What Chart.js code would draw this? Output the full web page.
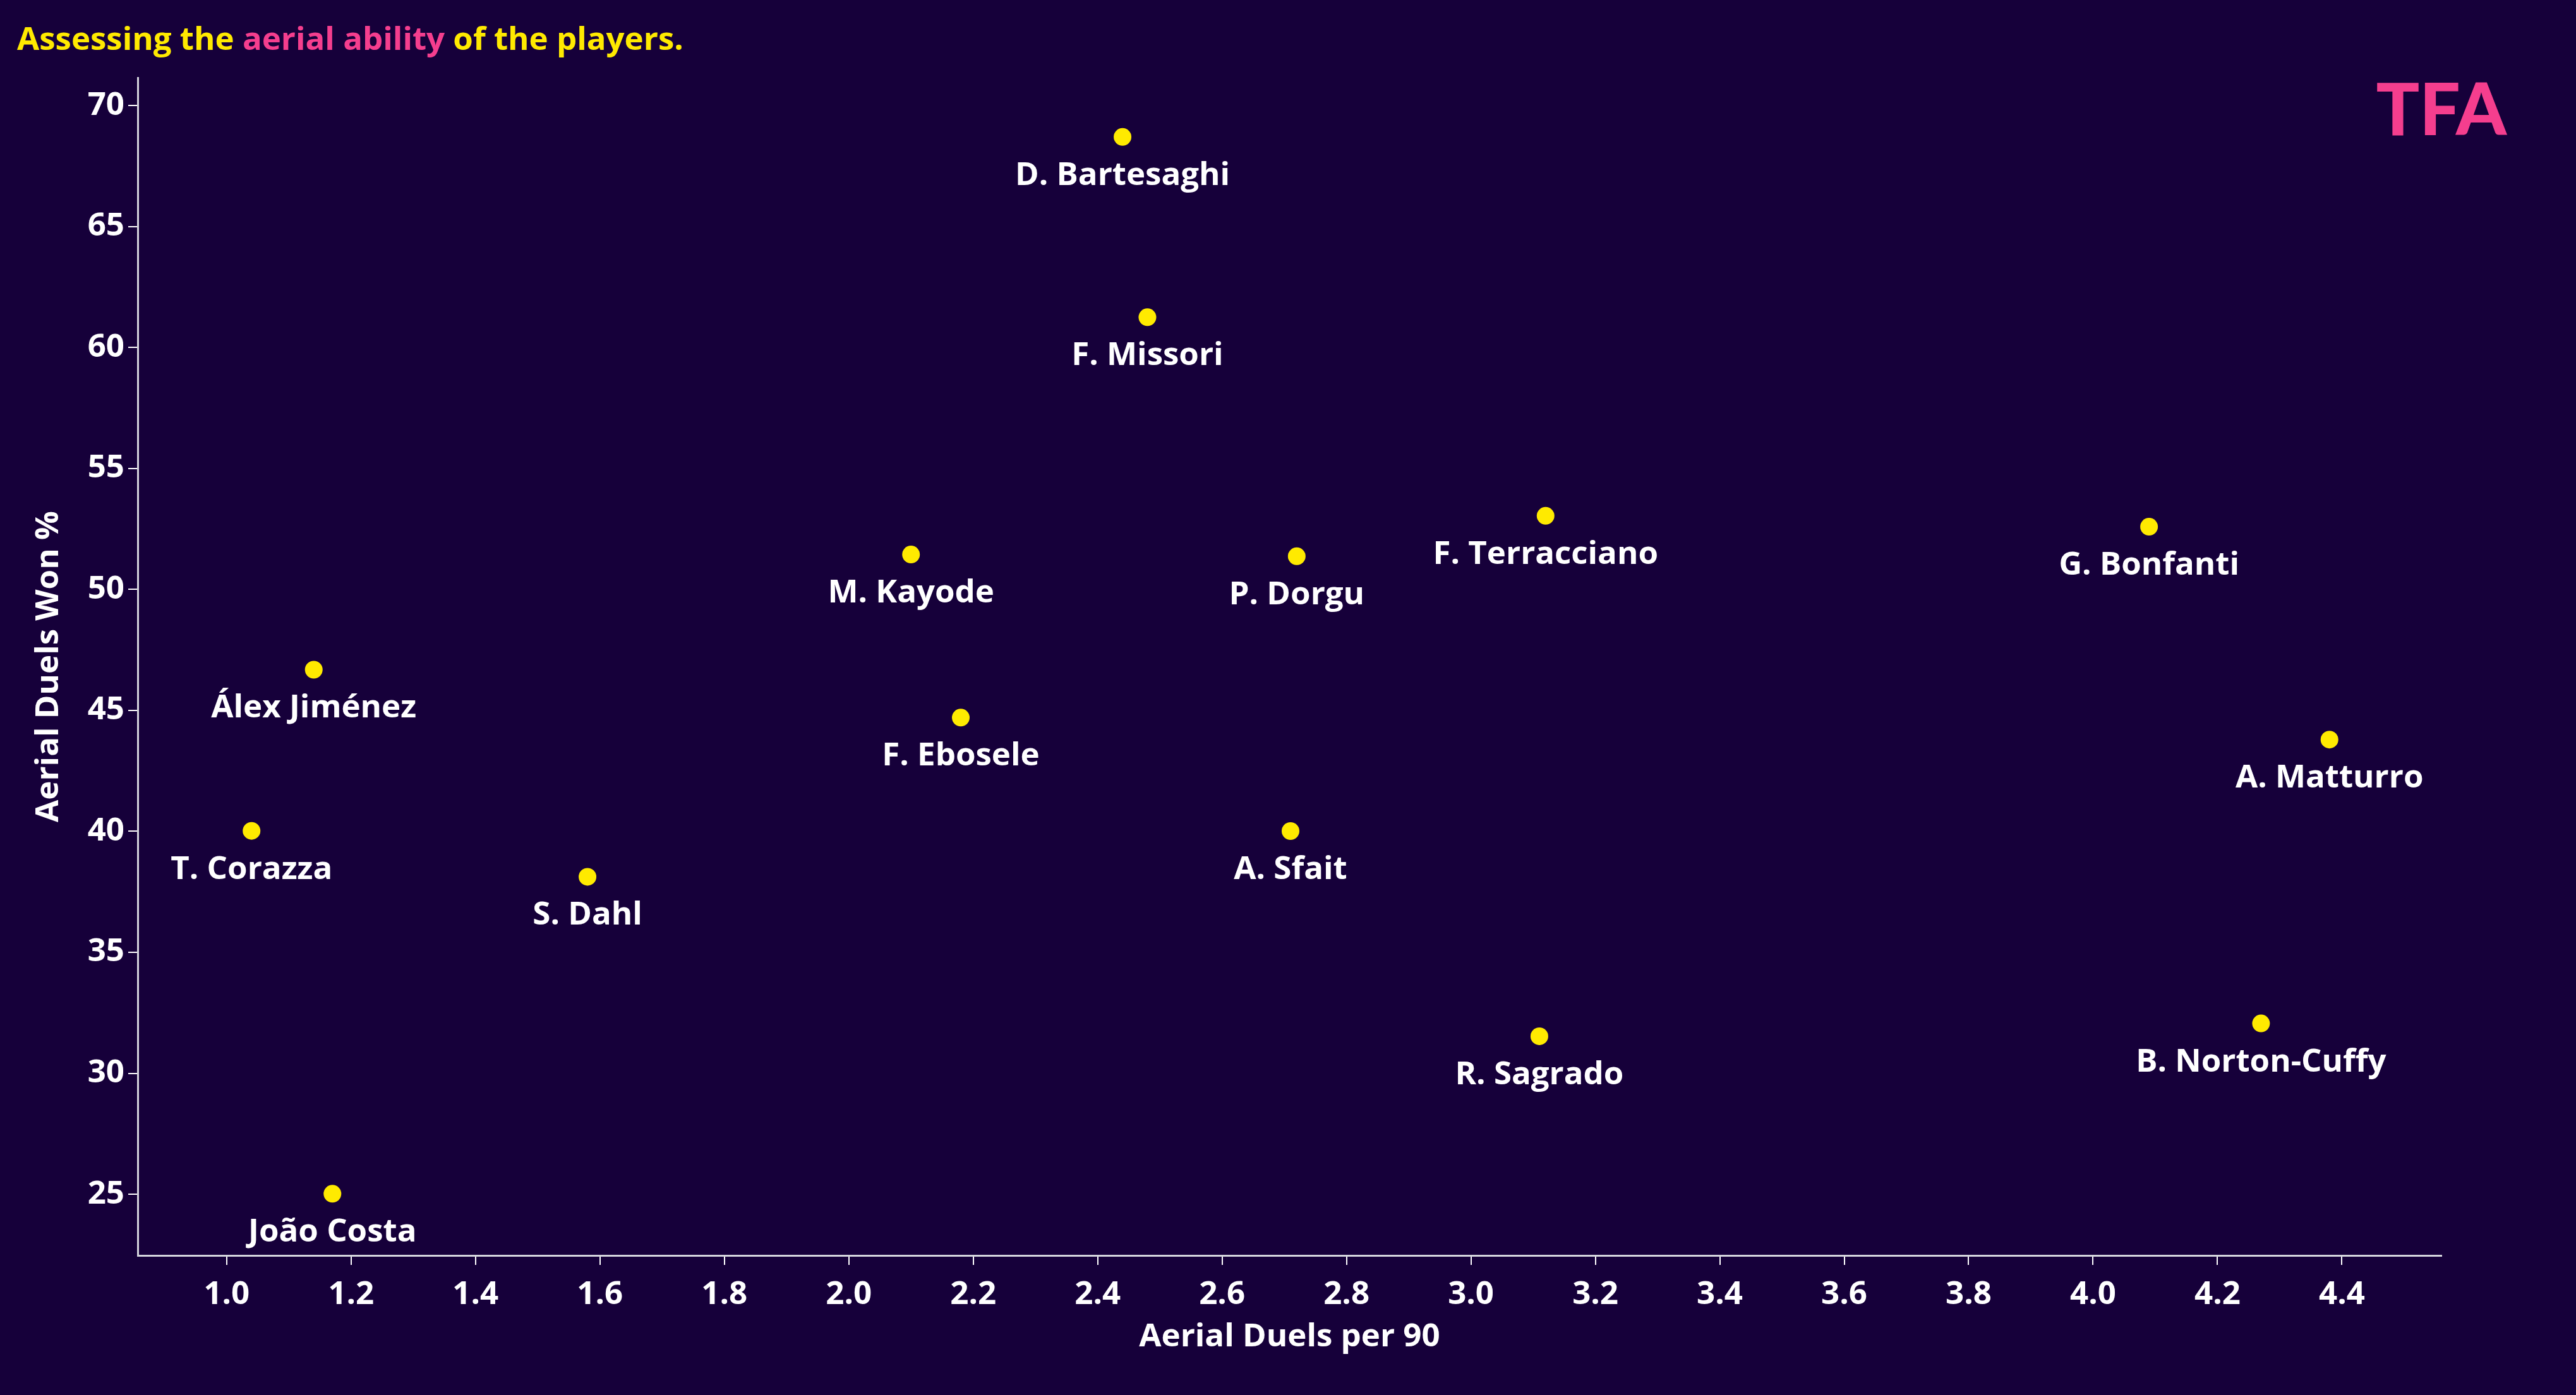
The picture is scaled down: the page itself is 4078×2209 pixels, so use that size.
<!DOCTYPE html>
<html>
<head>
<meta charset="utf-8">
<title>Assessing the aerial ability of the players</title>
<script src="https://cdn.jsdelivr.net/npm/chart.js@4.4.1/dist/chart.umd.min.js"></script>
<style>
  html, body { margin: 0; padding: 0; background: #16003a; }
  #wrap { width: 4078px; height: 2209px; }
</style>
</head>
<body>
<div id="wrap"><canvas id="chart" width="4078" height="2209"></canvas></div>
<script>
// Scatter: aerial duels per 90 (x) vs aerial duels won % (y), one labelled dot per player.

const PLAYERS = [
  'D. Bartesaghi', 'F. Missori', 'M. Kayode', 'P. Dorgu', 'F. Terracciano',
  'G. Bonfanti', 'Álex Jiménez', 'F. Ebosele', 'A. Matturro', 'T. Corazza',
  'A. Sfait', 'S. Dahl', 'R. Sagrado', 'B. Norton-Cuffy', 'João Costa'
];
const DUELS_P90 = [
  2.44, 2.48, 2.10, 2.72, 3.12,
  4.09, 1.14, 2.18, 4.38, 1.04,
  2.71, 1.58, 3.11, 4.27, 1.17
];
const WON_PCT = [
  68.7, 61.25, 51.44, 51.37, 53.04,
  52.59, 46.68, 44.70, 43.79, 40.02,
  40.01, 38.12, 31.53, 32.06, 25.02
];
const X_TICKS = [1.0, 1.2, 1.4, 1.6, 1.8, 2.0, 2.2, 2.4, 2.6, 2.8, 3.0, 3.2, 3.4, 3.6, 3.8, 4.0, 4.2, 4.4];
const Y_TICKS = [25, 30, 35, 40, 45, 50, 55, 60, 65, 70];

const FONT = "'Open Sans', 'Noto Sans', sans-serif";
const BG = '#16003a';
const YELLOW = '#ffea00';
const PINK = '#f53e8e';
const WHITE = '#ffffff';

Chart.defaults.font.family = FONT;
Chart.defaults.color = WHITE;

// background, title, logo and the player name under each dot
const decorPlugin = {
  id: 'decor',
  beforeDraw(chart) {
    const { ctx, width, height } = chart;
    ctx.save();
    ctx.fillStyle = BG;
    ctx.fillRect(0, 0, width, height);
    ctx.restore();
  },
  afterDraw(chart) {
    const { ctx } = chart;
    ctx.save();
    // two-colour title
    ctx.font = 'bold 51px ' + FONT;
    ctx.textBaseline = 'alphabetic';
    ctx.textAlign = 'left';
    const parts = [
      ['Assessing the ', YELLOW],
      ['aerial ability', PINK],
      [' of the players.', YELLOW]
    ];
    let x = 27;
    parts.forEach(p => {
      ctx.fillStyle = p[1];
      ctx.fillText(p[0], x, 79);
      x += ctx.measureText(p[0]).width;
    });

    // logo
    ctx.fillStyle = PINK;
    ctx.font = '900 114px Lato, ' + FONT;
    ctx.textAlign = 'right';
    ctx.fillText('TFA', 3968, 214);
    ctx.restore();
  },
  afterDatasetsDraw(chart) {
    const { ctx } = chart;
    const meta = chart.getDatasetMeta(0);
    ctx.save();
    ctx.font = 'bold 51px ' + FONT;
    ctx.fillStyle = WHITE;
    ctx.textAlign = 'center';
    ctx.textBaseline = 'alphabetic';
    meta.data.forEach((pt, i) => {
      ctx.fillText(PLAYERS[i], pt.x, pt.y + 76);
    });
    ctx.restore();
  }
};

const points = DUELS_P90.map((v, i) => ({ x: v, y: WON_PCT[i] }));

new Chart(document.getElementById('chart'), {
  type: 'scatter',
  data: {
    datasets: [{
      label: 'Players',
      data: points,
      backgroundColor: YELLOW,
      borderWidth: 0,
      pointRadius: 14,
      pointHoverRadius: 14
    }]
  },
  options: {
    responsive: false,
    animation: false,
    layout: { padding: { left: 0, right: 213, top: 123, bottom: 0 } },
    plugins: {
      legend: { display: false },
      tooltip: { enabled: false }
    },
    scales: {
      x: {
        type: 'linear',
        min: 0.857,
        max: 4.56,
        afterBuildTicks: s => { s.ticks = X_TICKS.map(v => ({ value: v })); },
        afterFit: s => { s.height = 221; },
        ticks: {
          color: WHITE,
          font: { size: 51, weight: 'bold' },
          padding: 17,
          callback: v => Number(v).toFixed(1)
        },
        grid: { drawOnChartArea: false, drawTicks: true, tickLength: 15, color: WHITE, lineWidth: 2 },
        border: { display: true, color: '#d4d4dc', width: 3 },
        title: {
          display: true,
          text: 'Aerial Duels per 90',
          color: WHITE,
          font: { size: 51, weight: 'bold' },
          padding: { top: 0, bottom: 61 }
        }
      },
      y: {
        type: 'linear',
        min: 22.47,
        max: 71.15,
        afterBuildTicks: s => { s.ticks = Y_TICKS.map(v => ({ value: v })); },
        afterFit: s => { s.width = 218; },
        ticks: {
          color: WHITE,
          font: { size: 51, weight: 'bold' },
          padding: 6
        },
        grid: { drawOnChartArea: false, drawTicks: true, tickLength: 15, color: WHITE, lineWidth: 2 },
        border: { display: true, color: '#d4d4dc', width: 3 },
        title: {
          display: true,
          text: 'Aerial Duels Won %',
          color: WHITE,
          font: { size: 51, weight: 'bold' },
          padding: { top: 47, bottom: 0 }
        }
      }
    }
  },
  plugins: [decorPlugin]
});
</script>
</body>
</html>
